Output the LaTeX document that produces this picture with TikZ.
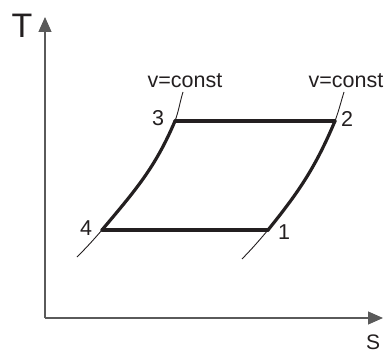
\documentclass[tikz,border=0pt]{standalone}
\usepackage{fontspec}
\setmainfont{Liberation Sans}
\usetikzlibrary{arrows.meta}
\definecolor{ink}{HTML}{231F20}
\definecolor{axisgray}{HTML}{5A5A5A}
\begin{document}
\begin{tikzpicture}[x=1pt, y=1pt, >={Triangle[length=15pt,width=13pt]},
  axis/.style={draw=axisgray, line width=1.2pt},
  isochore/.style={draw=ink, line width=0.9pt},
  process/.style={draw=ink, line width=3.2pt, line cap=round},
  lbl/.style={inner sep=0pt, anchor=base, font=\fontsize{21.5}{25}\selectfont, text=ink},]
\useasboundingbox (0,0) rectangle (385,354);
% axes
\coordinate (O) at (45, 36);
\coordinate (Ttop) at (45, 337);
\coordinate (Send) at (383, 36);
\draw [axis, ->] (O)--(Ttop);
\draw [axis, ->] (O)--(Send);
\node (T) [lbl, font=\fontsize{34}{40}\selectfont] at (22, 316) {T};
\node (S) [lbl, font=\fontsize{21}{25}\selectfont] at (373, 5) {S};
% state points
\coordinate (1) at (268, 124);
\coordinate (2) at (335, 233);
\coordinate (3) at (175, 233);
\coordinate (4) at (102, 124);
% isochores
\coordinate (a) at (77, 97);
\coordinate (b) at (183, 262);
\coordinate (c) at (242, 95);
\coordinate (d) at (344, 262);
\draw [isochore] (a) to[out=45,in=-131] (4) to[out=50,in=-113] (3) to[out=70,in=-107] (b);
\draw [isochore] (c) to[out=46,in=-130] (1) to[out=51,in=-113] (2) to[out=70,in=-107] (d);
% cycle
\draw [process] (4) to[out=50,in=-113] (3);
\draw [process] (1) to[out=51,in=-113] (2);
\draw [process] (3)--(2);
\draw [process] (4)--(1);
% labels
\node (v1) [lbl] at (185, 266) {v=const};
\node (v2) [lbl] at (346, 266) {v=const};
\node (l1) [lbl] at (284, 115) {1};
\node (l2) [lbl] at (347, 228) {2};
\node (l3) [lbl] at (158, 229) {3};
\node (l4) [lbl] at (86, 119) {4};
\end{tikzpicture}
\end{document}
